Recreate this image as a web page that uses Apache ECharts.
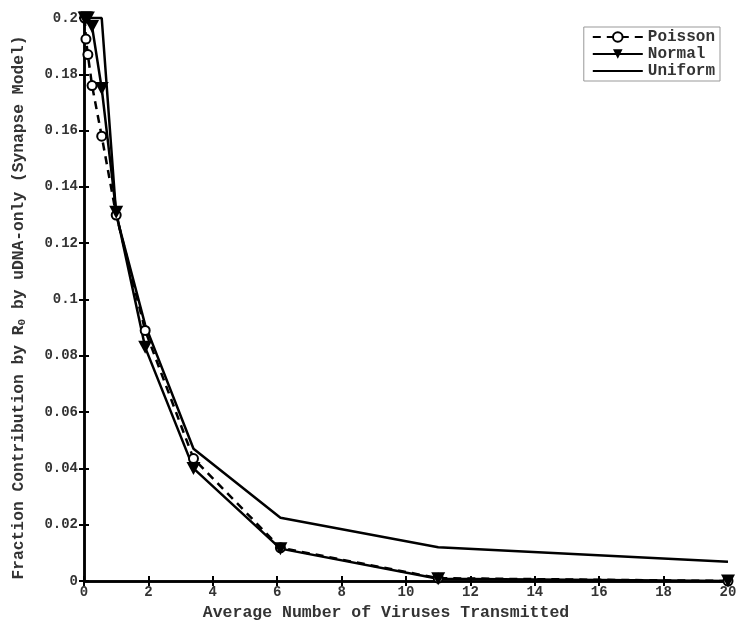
<!DOCTYPE html>
<html>
<head>
<meta charset="utf-8">
<script src="https://cdn.jsdelivr.net/npm/echarts@6/dist/echarts.min.js"></script>
<style>html,body{margin:0;padding:0;background:#fff;}#c{width:751px;height:630px;}</style>
</head>
<body>
<div id="c"></div>
<script>
const xValues = [0.02, 0.06, 0.12, 0.25, 0.55, 1.0, 1.9, 3.4, 6.1, 11, 20];
const poisson = [0.2, 0.1925, 0.187, 0.176, 0.158, 0.130, 0.089, 0.0435, 0.0118, 0.001, 0.0];
const normal  = [0.2, 0.2, 0.2, 0.197, 0.175, 0.131, 0.083, 0.040, 0.0115, 0.0008, 0.0];
const uniform = [0.2, 0.2, 0.2, 0.2, 0.2, 0.130, 0.091, 0.047, 0.0225, 0.012, 0.0068];
const seriesNames = ['Poisson', 'Normal', 'Uniform'];
const xTitle = 'Average Number of Viruses Transmitted';

const pair = arr => xValues.map((x, i) => [x, arr[i]]);
const FONT = '"Liberation Mono", "DejaVu Sans Mono", monospace';
const chart = echarts.init(document.getElementById('c'));
const axisCommon = {
  axisLine: {show: true, lineStyle: {color: '#000', width: 2.5}},
  axisTick: {show: true, inside: true, length: 5, lineStyle: {color: '#000', width: 2}},
  splitLine: {show: false}
};
chart.setOption({
  animation: false,
  backgroundColor: '#fff',
  textStyle: {fontFamily: FONT},
  grid: {left: 84, right: 23, top: 18, bottom: 49},
  legend: {
    right: 31, top: 27, orient: 'vertical', itemGap: 1, itemWidth: 50, itemHeight: 12,
    backgroundColor: '#fff', borderColor: '#999', borderWidth: 1, padding: [2, 5, 2, 8],
    textStyle: {fontFamily: FONT, fontWeight: 'bold', fontSize: 16, color: '#333'},
    data: [seriesNames[0], seriesNames[1], {name: seriesNames[2], itemStyle: {opacity: 0}}]
  },
  xAxis: [
    Object.assign({type: 'value', min: 0, max: 20, interval: 2, position: 'bottom',
      name: xTitle, nameLocation: 'middle', nameGap: 20,
      nameTextStyle: {fontFamily: FONT, fontWeight: 'bold', fontSize: 16.5, color: '#333', padding: [0, 40, 0, 0]},
      axisLabel: {fontFamily: FONT, fontWeight: 'bold', fontSize: 14, color: '#333', margin: 4}}, axisCommon),
    Object.assign({type: 'value', min: 0, max: 20, interval: 2, position: 'top',
      axisLabel: {show: false}}, axisCommon)
  ],
  yAxis: [
    Object.assign({type: 'value', min: 0, max: 0.2, interval: 0.02, position: 'left',
      name: 'Fraction Contribution by R{sub|0} by uDNA-only (Synapse Model)',
      nameLocation: 'middle', nameGap: 56, nameRotate: 90,
      nameTextStyle: {fontFamily: FONT, fontWeight: 'bold', fontSize: 16.3, color: '#333', padding: [0, 16, 0, 0],
        rich: {sub: {fontFamily: FONT, fontWeight: 'bold', fontSize: 11, color: '#333', verticalAlign: 'bottom', padding: [8, 0, 0, 0]}}},
      axisLabel: {fontFamily: FONT, fontWeight: 'bold', fontSize: 14, color: '#333', margin: 6}}, axisCommon),
    Object.assign({type: 'value', min: 0, max: 0.2, interval: 0.02, position: 'right',
      axisLabel: {show: false}}, axisCommon)
  ],
  series: [
    {name: seriesNames[0], type: 'line', data: pair(poisson), clip: false,
      symbol: 'emptyCircle', symbolSize: 9,
      lineStyle: {color: '#000', width: 2.5, type: [8, 6]},
      itemStyle: {color: '#000', borderColor: '#000', borderWidth: 2.5}},
    {name: seriesNames[1], type: 'line', data: pair(normal), clip: false,
      symbol: 'triangle', symbolRotate: 180, symbolSize: [14, 13],
      lineStyle: {color: '#000', width: 2.5},
      itemStyle: {color: '#000'}},
    {name: seriesNames[2], type: 'line', data: pair(uniform), clip: false,
      symbol: 'none',
      lineStyle: {color: '#000', width: 2.5},
      itemStyle: {color: '#000'}}
  ]
});
</script>
</body>
</html>
